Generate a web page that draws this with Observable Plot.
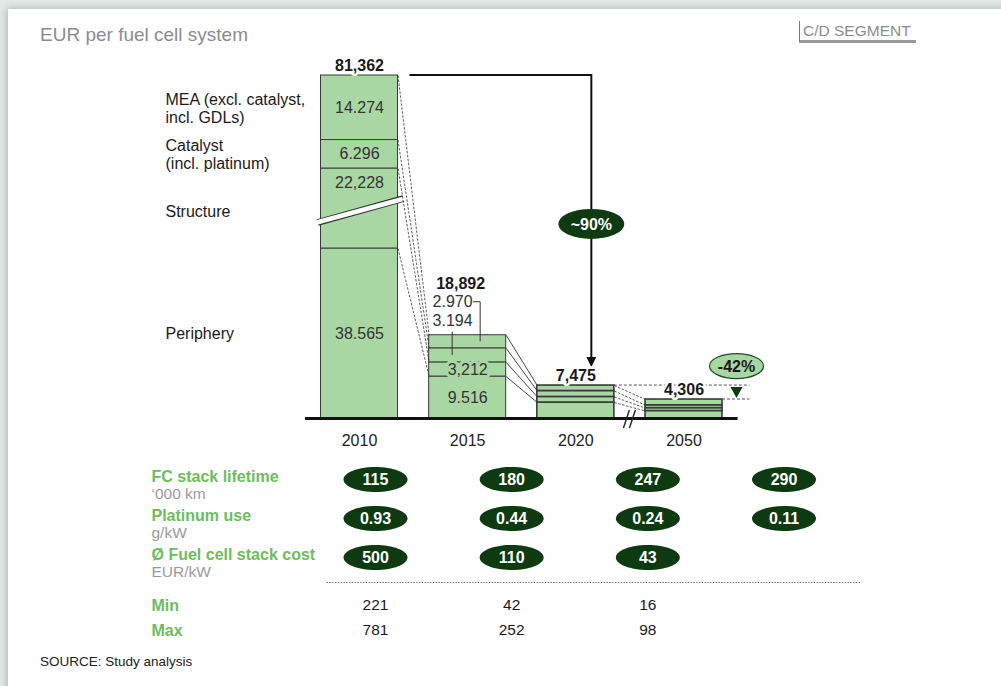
<!DOCTYPE html>
<html><head><meta charset="utf-8">
<script src="https://cdn.jsdelivr.net/npm/d3@7"></script>
<script src="https://cdn.jsdelivr.net/npm/@observablehq/plot@0.6"></script>
<style>
html,body{margin:0;padding:0;}
body{width:1001px;height:686px;overflow:hidden;background:#e2e9e6;font-family:"Liberation Sans",Arial,sans-serif;position:relative;}
#card{position:absolute;left:8px;top:9px;width:1100px;height:800px;background:#fff;box-shadow:-1px -1px 7px rgba(70,95,85,0.35);}
#title{position:absolute;left:40px;top:24px;font-size:19px;color:#8c8c8c;white-space:nowrap;}
#seg{position:absolute;left:799px;top:21px;width:113px;padding-left:3px;font-size:15.5px;color:#8c8c8c;border-left:1px solid #777;border-bottom:3px solid #999;line-height:19px;white-space:nowrap;}
#chart{position:absolute;left:0;top:0;}
#table{position:absolute;left:0;top:455px;}
#source{position:absolute;left:40px;top:654px;font-size:13.5px;color:#222;white-space:nowrap;}
</style></head><body>
<div id="card"></div>
<div id="title">EUR per fuel cell system</div>
<div id="seg">C/D SEGMENT</div>
<div id="chart"></div>
<div id="table"></div>
<div id="source">SOURCE: Study analysis</div>
<script>
// ---------------- data ----------------
const years = ["2010", "2015", "2020", "2050"];
const parts = ["Periphery", "Structure", "Catalyst", "MEA"]; // bottom to top
const partLabels = ["Periphery", "Structure", "Catalyst\n(incl. platinum)", "MEA (excl. catalyst,\nincl. GDLs)"];
const periphery = [38565, 9516, 3620, 1700];
const structure = [22228, 3212, 1270, 655];
const catalyst  = [6296, 3194, 1350, 640];
const mea       = [14274, 2970, 1235, 1311];
const totals = [81362, 18892, 7475, 4306];
const totalLabels = ["81,362", "18,892", "7,475", "4,306"];
const labels2010 = ["38.565", "22,228", "6.296", "14.274"];
const labels2015 = ["9.516", "3,212", "3.194", "2.970"];
const reductionLabels = ["~90%", "-42%"];

const rowNames = ["FC stack lifetime", "Platinum use", "Ø Fuel cell stack cost"];
const rowUnits = ["‘000 km", "g/kW", "EUR/kW"];
const lifetime  = ["115", "180", "247", "290"];
const platinum  = ["0.93", "0.44", "0.24", "0.11"];
const stackCost = ["500", "110", "43"];
const minCost = ["221", "42", "16"];
const maxCost = ["781", "252", "98"];

// ---------------- derived ----------------
const series = [periphery, structure, catalyst, mea];
const cum = years.map((_, i) => { let a = 0; return series.map(s => (a += s[i])); });
const segs = [];
years.forEach((yr, i) => {
  let a = 0;
  series.forEach((s, j) => { segs.push({i, year: yr, part: parts[j], y1: a, y2: a + s[i]}); a += s[i]; });
});
const hw = 0.356;
const GREEN = "#a9d7a3", DARK = "#0d3a10", LABEL_GREEN = "#6dbd5c";
const FONT = "'Liberation Sans', Arial, sans-serif";

const conns = [];
for (let i = 0; i < 3; i++) for (let j = 0; j < 4; j++)
  conns.push({x1: i + hw, x2: i + 1 - hw, y1: cum[i][j], y2: cum[i + 1][j], dashed: i !== 1});

function ellipseSymbol(rx, ry) {
  const k = 0.5523, ox = rx * k, oy = ry * k;
  return {draw(c) {
    c.moveTo(-rx, 0);
    c.bezierCurveTo(-rx, -oy, -ox, -ry, 0, -ry);
    c.bezierCurveTo(ox, -ry, rx, -oy, rx, 0);
    c.bezierCurveTo(rx, oy, ox, ry, 0, ry);
    c.bezierCurveTo(-ox, ry, -rx, oy, -rx, 0);
    c.closePath();
  }};
}
function ellipsePath(cx, cy, rx, ry) {
  return `M${cx - rx},${cy}A${rx},${ry} 0 1,0 ${cx + rx},${cy}A${rx},${ry} 0 1,0 ${cx - rx},${cy}Z`;
}

// annotations drawn through the plot's own scales
function annotations(index, scales) {
  const x = scales.x, y = scales.y;
  const g = d3.create("svg:g").attr("fill", "none");
  const bw = x(hw) - x(0);
  // ~90% arrow
  const ax = x(2) + 16, top = y(totals[0]), tip = y(totals[2]) - 18;
  g.append("path").attr("d", `M${x(0) + bw + 12},${top}H${ax}V${tip - 8}`).attr("stroke", "#111").attr("stroke-width", 2);
  g.append("path").attr("d", `M${ax - 5},${tip - 10}L${ax + 5},${tip - 10}L${ax},${tip}Z`).attr("fill", "#111");
  const ey = top + 0.51 * (tip - top);
  g.append("path").attr("d", ellipsePath(ax, ey, 33, 15)).attr("fill", DARK);
  g.append("text").attr("x", ax).attr("y", ey).attr("dy", "0.36em").attr("text-anchor", "middle")
    .attr("fill", "#fff").attr("font-weight", "bold").attr("font-size", 16).text(reductionLabels[0]);
  // 2015 call-out brackets
  const t15 = y(totals[1]);
  const meaMid = y((cum[1][2] + cum[1][3]) / 2), catMid = y((cum[1][1] + cum[1][2]) / 2);
  g.append("path").attr("d", `M${x(1) + 6},${t15 - 33}H${x(1) + 13}V${meaMid}`).attr("stroke", "#333").attr("stroke-width", 1);
  g.append("path").attr("d", `M${x(1) - 15},${t15 - 3}V${catMid}`).attr("stroke", "#333").attr("stroke-width", 1);
  // axis break marks between 2020 and 2050
  const bx = x(2.5), by = y(0);
  for (const o of [-3, 3])
    g.append("path").attr("d", `M${bx + o - 3},${by + 10}L${bx + o + 3},${by - 8}`).attr("stroke", "#222").attr("stroke-width", 1.4);
  // -42% callout
  const t20 = y(totals[2]), t50 = y(totals[3]), rx = x(3) + 66, tx = x(3) + 53;
  g.append("path").attr("d", `M${x(2) + bw},${t20}H${rx}M${x(3) + bw},${t50}H${rx}`)
    .attr("stroke", "#555").attr("stroke-width", 1).attr("stroke-dasharray", "3,2");
  g.append("path").attr("d", `M${tx - 6},${t20 + 2}L${tx + 6},${t20 + 2}L${tx},${t50 - 1}Z`).attr("fill", DARK);
  const e2y = t20 - 19;
  g.append("path").attr("d", ellipsePath(tx, e2y, 27, 12.5)).attr("fill", GREEN).attr("stroke", "#1f4f22").attr("stroke-width", 1.2);
  g.append("text").attr("x", tx).attr("y", e2y).attr("dy", "0.36em").attr("text-anchor", "middle")
    .attr("fill", "#1a1a1a").attr("font-weight", "bold").attr("font-size", 16).text(reductionLabels[1]);
  return g.node();
}

const y2010 = [0, cum[0][0], cum[0][1], cum[0][3]];

const chart = Plot.plot({
  width: 1001, height: 455,
  marginLeft: 165, marginRight: 0, marginTop: 0, marginBottom: 0,
  x: {type: "linear", domain: [0, 3], range: [359, 683.5], axis: null},
  y: {type: "linear", domain: y2010, range: [418, 248, 168, 75], axis: null},
  style: {background: "transparent", fontFamily: FONT, fontSize: "16px", color: "#222", overflow: "visible"},
  marks: [
    Plot.rect(segs, {x1: d => d.i - hw, x2: d => d.i + hw, y1: "y1", y2: "y2", fill: GREEN,
      stroke: "#3a3a3a", strokeWidth: d => d.i >= 2 ? 1.6 : 1}),
    // break in the 2010 bar
    Plot.link([0], {x1: -hw - 0.03, x2: hw + 0.05,
      y1: cum[0][0] + 0.325 * structure[0], y2: cum[0][0] + 0.625 * structure[0], stroke: "#333", strokeWidth: 7}),
    Plot.link([0], {x1: -hw - 0.04, x2: hw + 0.06,
      y1: cum[0][0] + 0.325 * structure[0], y2: cum[0][0] + 0.625 * structure[0], stroke: "#fff", strokeWidth: 4.6}),
    // connectors
    Plot.link(conns.filter(d => d.dashed), {x1: "x1", x2: "x2", y1: "y1", y2: "y2", stroke: "#333", strokeWidth: 0.8, strokeDasharray: "2.5,1.5"}),
    Plot.link(conns.filter(d => !d.dashed), {x1: "x1", x2: "x2", y1: "y1", y2: "y2", stroke: "#333", strokeWidth: 0.9}),
    // baseline
    Plot.ruleY([0], {x1: -0.5, x2: 3.5, stroke: "#111", strokeWidth: 3}),
    annotations,
    // year labels
    Plot.text(years, {x: (d, i) => i, y: 0, dy: 22, text: d => d, fill: "#222", fontSize: 16}),
    // totals
    Plot.text([0, 2, 3], {x: i => i, y: i => totals[i], dy: -10, text: i => totalLabels[i], fill: "#1a1a1a",
      fontWeight: "bold", fontSize: 16, stroke: "#fff", strokeWidth: 5, paintOrder: "stroke"}),
    Plot.text([1], {x: i => i, y: i => totals[i], dy: -51, dx: -7, text: i => totalLabels[i], fill: "#1a1a1a", fontWeight: "bold", fontSize: 16}),
    // 2010 segment values
    Plot.text([0, 1, 2, 3], {x: 0, y: j => j === 1 ? cum[0][0] + 0.82 * structure[0] : (j ? cum[0][j - 1] : 0) / 2 + cum[0][j] / 2,
      text: j => labels2010[j], fill: "#333", fontSize: 16}),
    // 2015 values inside the bar
    Plot.text([0, 1], {x: 1, y: j => (j ? cum[1][j - 1] : 0) / 2 + cum[1][j] / 2, text: j => labels2015[j], fill: "#333", fontSize: 16,
      stroke: GREEN, strokeWidth: 6, paintOrder: "stroke"}),
    // 2015 call-out values above the bar
    Plot.text([3], {x: 1, y: totals[1], dy: -33, dx: 5, textAnchor: "end", text: j => labels2015[j], fill: "#333", fontSize: 16}),
    Plot.text([2], {x: 1, y: totals[1], dy: -14, dx: 5, textAnchor: "end", text: j => labels2015[j], fill: "#333", fontSize: 16}),
    // component names at left
    Plot.text([0, 1, 2, 3], {frameAnchor: "left", textAnchor: "start",
      y: j => (j ? cum[0][j - 1] : 0) / 2 + cum[0][j] / 2 + (j === 1 ? -0.03 * structure[0] : 0),
      text: j => partLabels[j], lineHeight: 1.13, fill: "#1a1a1a", fontSize: 16})
  ]
});
document.getElementById("chart").append(chart);

// ---------------- table ----------------
const cells = [];
[lifetime, platinum, stackCost].forEach((arr, r) => arr.forEach((v, c) => cells.push({r, c, v})));
const mm = [];
[minCost, maxCost].forEach((arr, k) => arr.forEach((v, c) => mm.push({r: 4 + k, c, v})));

const table = Plot.plot({
  width: 1001, height: 231,
  marginLeft: 151, marginRight: 0, marginTop: 0, marginBottom: 0,
  x: {type: "linear", domain: [0, 3], range: [375, 783.5], axis: null},
  y: {type: "linear", domain: [0, 1, 2, 3, 4, 5], range: [24, 63, 102, 127, 150, 175], axis: null},
  style: {background: "transparent", fontFamily: FONT, fontSize: "15px", color: "#222", overflow: "visible"},
  marks: [
    Plot.dot(cells, {x: "c", y: "r", r: 10, symbol: ellipseSymbol(32, 12.5), fill: DARK, stroke: null}),
    Plot.text(cells, {x: "c", y: "r", text: "v", fill: "#fff", fontWeight: "bold", fontSize: 16}),
    Plot.text(rowNames, {frameAnchor: "left", textAnchor: "start", y: (d, i) => i, dy: -3, text: d => d,
      fill: LABEL_GREEN, fontWeight: "bold", fontSize: 16}),
    Plot.text(rowUnits, {frameAnchor: "left", textAnchor: "start", y: (d, i) => i, dy: 15, text: d => d,
      fill: "#9a9a9a", fontSize: 15.5}),
    Plot.ruleY([3], {x1: -0.355, x2: 3.575, stroke: "#555", strokeWidth: 1.2, strokeDasharray: "1.2,1.6"}),
    Plot.text(["Min", "Max"], {frameAnchor: "left", textAnchor: "start", y: (d, i) => 4 + i, text: d => d,
      fill: LABEL_GREEN, fontWeight: "bold", fontSize: 16}),
    Plot.text(mm, {x: "c", y: "r", text: "v", fill: "#1a1a1a", fontSize: 15.5})
  ]
});
document.getElementById("table").append(table);
</script>
</body></html>
